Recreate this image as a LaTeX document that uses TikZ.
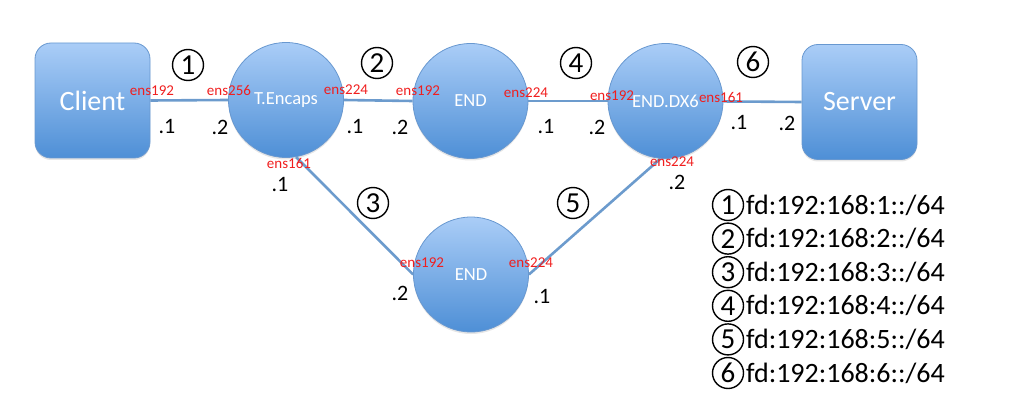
\documentclass[tikz,border=0pt]{standalone}
\usepackage{fontspec}
\setmainfont{Carlito}
\usetikzlibrary{shadows}
\definecolor{nettop}{RGB}{170,205,247}
\definecolor{netbot}{RGB}{78,143,214}
\definecolor{netedge}{RGB}{104,152,208}
\definecolor{netline}{RGB}{108,155,205}
\definecolor{portred}{RGB}{240,30,30}
\tikzset{
  host/.style={rectangle, rounded corners=16pt, minimum width=115pt, minimum height=115pt,
    top color=nettop, bottom color=netbot, draw=netedge, line width=0.8pt,
    drop shadow={opacity=0.2, shadow xshift=0pt, shadow yshift=-2pt},
    text=white, font=\fontsize{28}{30}\selectfont},
  router/.style={circle, minimum size=115pt, inner sep=0pt,
    top color=nettop, bottom color=netbot, draw=netedge, line width=0.8pt,
    drop shadow={opacity=0.2, shadow xshift=0pt, shadow yshift=-2pt},
    text=white, font=\fontsize{18.5}{20}\selectfont},
  link/.style={line width=2.6pt, draw=netline},
  port/.style={text=portred, inner sep=0pt, font=\fontsize{15}{16}\selectfont},
  addr/.style={inner sep=0pt, font=\fontsize{22}{23}\selectfont},
  numc/.style={circle, draw=black, line width=1.4pt, minimum size=31pt, inner sep=0pt,
    font=\fontsize{29}{30}\selectfont},
  netprefix/.style={anchor=west, inner sep=0pt, font=\fontsize{28}{30}\selectfont},
}
\begin{document}
\begin{tikzpicture}[x=1pt, y=-1pt]
\useasboundingbox (0,0) rectangle (1024,406);
% hosts and routers
\node[host] (client) at (92.5,100.5) {Client};
\node[router] (tencaps) at (286,100) {T.Encaps};
\node[router] (endA) at (470.5,101) {END};
\node[router] (dx6) at (665.5,101) {END.DX6};
\node[host] (server) at (859.5,102) {Server};
\node[router] (endB) at (471,274.5) {END};
% links
\draw[link] (client.east) -- (tencaps.west);
\draw[link] (tencaps.east) -- (endA.west);
\draw[link] (endA.east) -- (dx6.west);
\draw[link] (dx6) -- (server.west);
\draw[link] (tencaps.-80) -- (endB.west);
\draw[link] (endB.east) -- (dx6.-95);
% segment numbers
\node[numc] (s1) at (188,65) {1};
\node[numc] (s2) at (377,63) {2};
\node[numc] (s3) at (373,203) {3};
\node[numc] (s4) at (576,63) {4};
\node[numc] (s5) at (573,203) {5};
\node[numc] (s6) at (753,62) {6};
% interface names
\node[port] (p1) at (152,91) {ens192};
\node[port] (p2) at (229,90) {ens256};
\node[port] (p3) at (346,90) {ens224};
\node[port] (p4) at (418,91) {ens192};
\node[port] (p5) at (526,93) {ens224};
\node[port] (p6) at (612,96) {ens192};
\node[port] (p7) at (721,97) {ens161};
\node[port] (p8) at (289,163) {ens161};
\node[port] (p9) at (672,162) {ens224};
\node[port] (p10) at (422,263) {ens192};
\node[port] (p11) at (531,263) {ens224};
% addresses
\node[addr] (a1) at (167,127) {.1};
\node[addr] (a2) at (220,127) {.2};
\node[addr] (a3) at (355,127) {.1};
\node[addr] (a4) at (400,127) {.2};
\node[addr] (a5) at (546,127) {.1};
\node[addr] (a6) at (597,127) {.2};
\node[addr] (a7) at (739,123) {.1};
\node[addr] (a8) at (787,123) {.2};
\node[addr] (a9) at (280,185) {.1};
\node[addr] (a10) at (677,182) {.2};
\node[addr] (a11) at (400,293) {.2};
\node[addr] (a12) at (542,297) {.1};
% legend
\foreach \i in {1,...,6} {
  \node[numc] (k\i) at (728,{205+33.6*(\i-1)}) {\i};
  \node[netprefix] (t\i) at (746,{205+33.6*(\i-1)}) {fd:192:168:\i::/64};
}
\end{tikzpicture}
\end{document}
